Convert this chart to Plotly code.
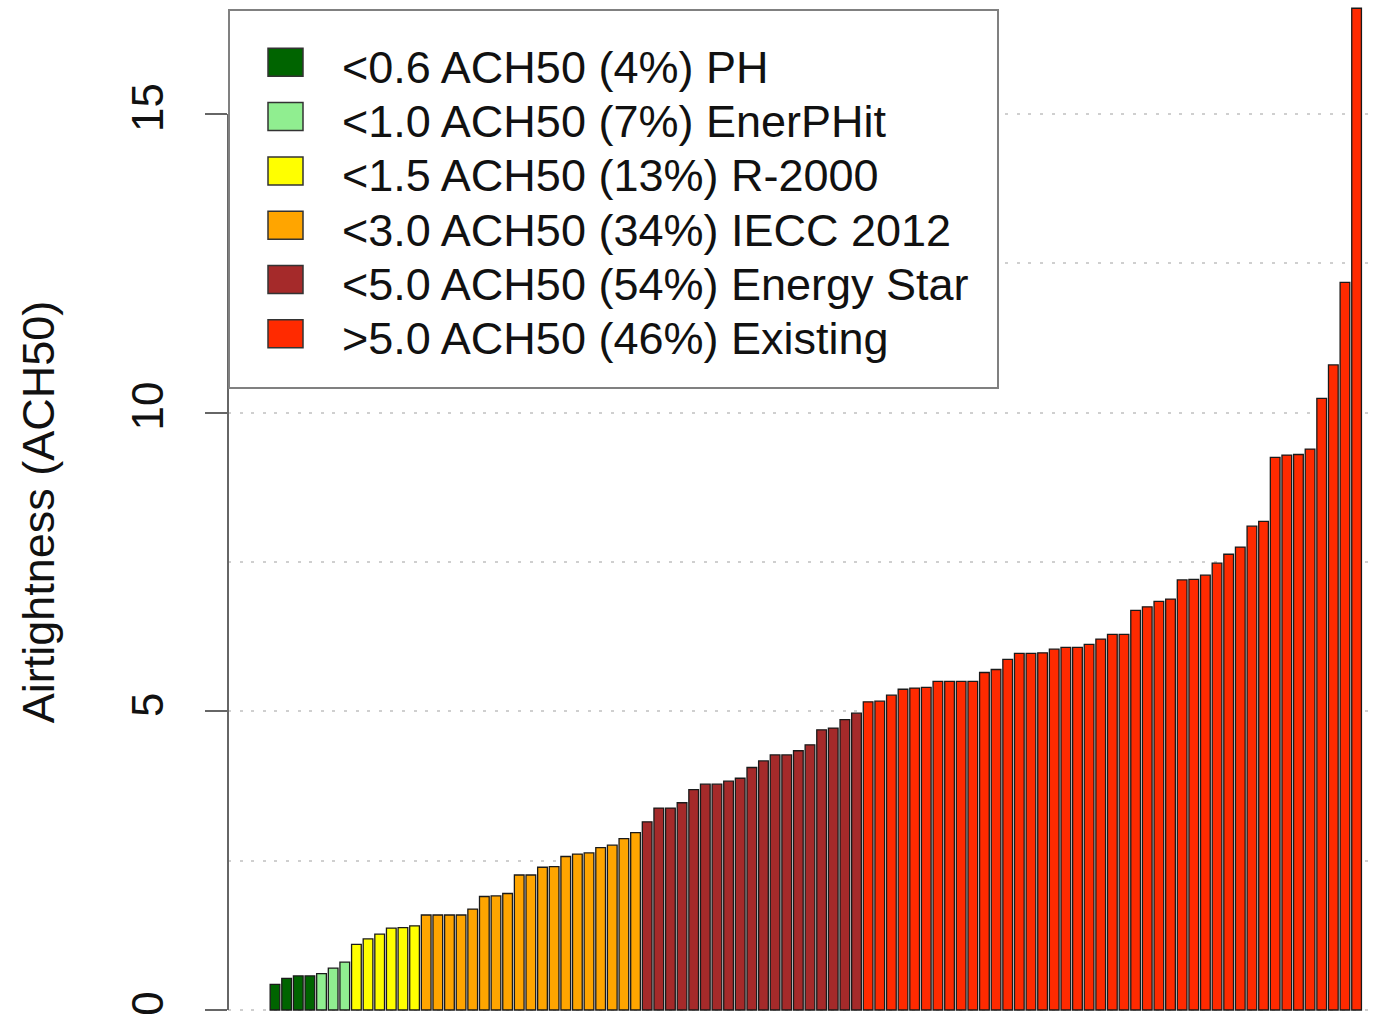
import plotly.graph_objects as go

# ---- data ----
classes = ["<0.6 ACH50 (4%) PH", "<1.0 ACH50 (7%) EnerPHit", "<1.5 ACH50 (13%) R-2000",
           "<3.0 ACH50 (34%) IECC 2012", "<5.0 ACH50 (54%) Energy Star", ">5.0 ACH50 (46%) Existing"]
class_colors = ["#006400", "#90EE90", "#FFFF00", "#FFA500", "#A52A2A", "#FF2A00"]
thresholds = [0.6, 1.0, 1.5, 3.0, 5.0]

ach50 = [0.43, 0.53, 0.57, 0.57,
         0.61, 0.70, 0.80,
         1.10, 1.19, 1.27, 1.37, 1.38, 1.41,
         1.59, 1.59, 1.59, 1.59, 1.69, 1.90, 1.91, 1.95, 2.26, 2.26, 2.39, 2.40, 2.57, 2.61,
         2.63, 2.72, 2.76, 2.87, 2.97,
         3.15, 3.38, 3.38, 3.47, 3.69, 3.78, 3.78, 3.83, 3.88, 4.06, 4.17, 4.27, 4.27, 4.34,
         4.44, 4.69, 4.72, 4.86, 4.97,
         5.16, 5.17, 5.27, 5.37, 5.39, 5.40, 5.50, 5.50, 5.50, 5.50, 5.65, 5.70, 5.87, 5.97,
         5.97, 5.98, 6.04, 6.07, 6.07, 6.12, 6.21, 6.29, 6.29, 6.69, 6.75, 6.84, 6.88, 7.20,
         7.21, 7.28, 7.48, 7.63, 7.75, 8.10, 8.18, 9.25, 9.29, 9.30, 9.39, 10.24, 10.80,
         12.18, 16.77]

y_tick_vals = [0, 5, 10, 15]
y_tick_text = ["0", "5", "10", "15"]
y_title = "Airtightness (ACH50)"


def class_of(v):
    for i, t in enumerate(thresholds):
        if v < t:
            return i
    return len(thresholds)


W, H = 1376, 1024
ML = 228
PW = W - ML

fig = go.Figure()
for ci, (name, col) in enumerate(zip(classes, class_colors)):
    xs = [i for i, v in enumerate(ach50) if class_of(v) == ci]
    ys = [ach50[i] for i in xs]
    fig.add_trace(go.Bar(x=xs, y=ys, name=name, width=1 / 1.2,
                         marker=dict(color=col, line=dict(color="#1a1a1a", width=1.3)),
                         showlegend=False))


def px_x(p):
    return (p - ML) / PW


def px_y(p):
    return 1 - p / H


FONT = "Liberation Sans, Arial, Helvetica, sans-serif"
FS = 45
shapes = []
annotations = []

# y axis line from 0 to 15 (R style)
shapes.append(dict(type="line", xref="paper", yref="y", x0=0, x1=0, y0=y_tick_vals[0], y1=y_tick_vals[-1],
                   line=dict(color="#666666", width=2), layer="above"))

# legend box
shapes.append(dict(type="rect", xref="paper", yref="paper", x0=px_x(229), x1=px_x(998),
                   y0=px_y(388), y1=px_y(10), fillcolor="white",
                   line=dict(color="#808080", width=2), layer="above"))
for k, (name, col) in enumerate(zip(classes, class_colors)):
    cy = 62.3 + 54.3 * k
    shapes.append(dict(type="rect", xref="paper", yref="paper", x0=px_x(268), x1=px_x(303),
                       y0=px_y(cy + 14), y1=px_y(cy - 14), fillcolor=col,
                       line=dict(color="#333333", width=1.5), layer="above"))
    annotations.append(dict(xref="paper", yref="paper", x=px_x(340), y=px_y(cy + 5),
                            xanchor="left", yanchor="middle", text=name, showarrow=False,
                            font=dict(family=FONT, size=FS, color="#111111")))

px_per_unit = (1010 - 114) / 15.0
y_lo = -(H - 1010) / px_per_unit
y_hi = 1010 / px_per_unit
pitch = 11.63
x_lo = -(275 - ML) / pitch
x_hi = x_lo + PW / pitch

fig.update_layout(
    width=W, height=H,
    margin=dict(l=ML, r=0, t=0, b=0),
    paper_bgcolor="white", plot_bgcolor="white",
    barmode="overlay",
    font=dict(family=FONT, size=FS, color="#111111"),
    shapes=shapes, annotations=annotations,
    xaxis=dict(range=[x_lo, x_hi], showgrid=False, zeroline=False, showticklabels=False,
               ticks="", showline=False),
    yaxis=dict(range=[y_lo, y_hi], tickvals=y_tick_vals, ticktext=y_tick_text,
               tickangle=-90, ticks="outside", ticklen=22, tickwidth=2, tickcolor="#666666",
               ticklabelstandoff=24, tickfont=dict(family=FONT, size=44, color="#111111"),
               showline=False, zeroline=False,
               showgrid=True, gridcolor="#CFCFCF", gridwidth=2, griddash="3px,8.6px",
               minor=dict(dtick=2.5, tick0=0, showgrid=True, gridcolor="#CFCFCF", gridwidth=2,
                          griddash="3px,8.6px", ticks=""),
               layer="above traces",
               title=dict(text=y_title, font=dict(family=FONT, size=FS, color="#111111"), standoff=54),
               automargin=False),
)

fig.write_html("out.html", config={"displayModeBar": False},
               post_script="document.body.style.margin='0';")
